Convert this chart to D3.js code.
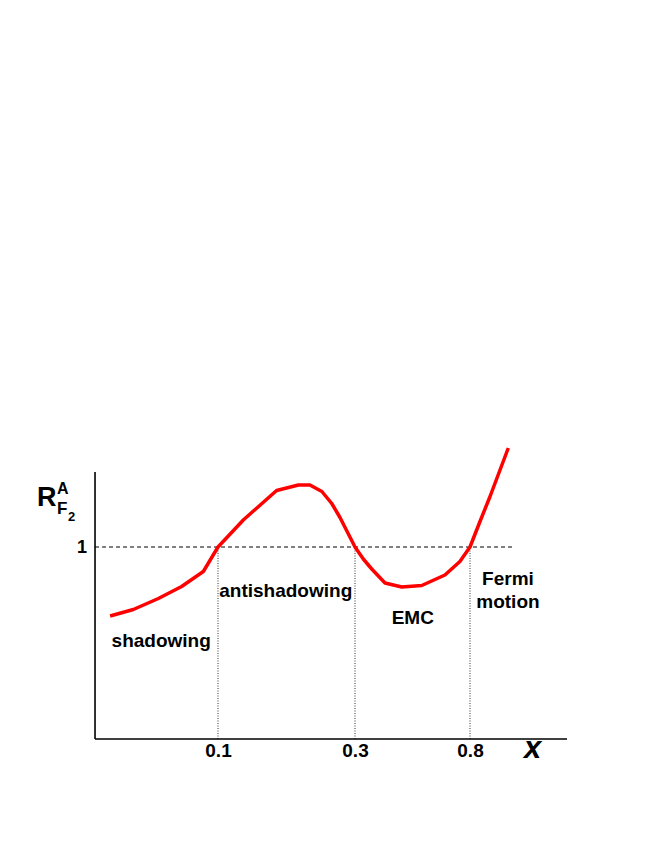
<!DOCTYPE html>
<html>
<head>
<meta charset="utf-8">
<script src="https://cdn.jsdelivr.net/npm/d3@7"></script>
<style>
  body { margin: 0; background: #fff; }
  text { font-family: "Liberation Sans", Arial, Helvetica, sans-serif; font-weight: bold; fill: #000; }
</style>
</head>
<body>
<script>
// schematic nuclear ratio R = F2(A)/F2(D) versus x
const curveX = [0.0421, 0.0507, 0.0620, 0.0747, 0.0889, 0.100, 0.1225, 0.160, 0.1905, 0.209,
    0.230, 0.249, 0.266, 0.300, 0.322, 0.346, 0.3875, 0.447, 0.530, 0.646, 0.734, 0.800,
    0.871, 0.949, 1.109];
const curveR = [0.862, 0.875, 0.897, 0.921, 0.951, 1.000, 1.054, 1.113, 1.124, 1.124,
    1.111, 1.087, 1.059, 1.000, 0.976, 0.956, 0.928, 0.920, 0.923, 0.944, 0.971, 1.000,
    1.051, 1.101, 1.198];

const tickValues = [0.1, 0.3, 0.8];
const tickLabels = ["0.1", "0.3", "0.8"];
const xExtent = [0.0373, 1.83];
const rExtent = [0.616, 1.15];
const unityEnd = 1.174;

const regionNames = ["shadowing", "antishadowing", "EMC", "Fermi", "motion"];
const regionX = [0.0426, 0.101, 0.410, 1.106, 1.106];
const regionR = [0.800, 0.900, 0.846, 0.924, 0.878];

const width = 654, height = 846;

const svg = d3.select("body").append("svg")
    .attr("width", width)
    .attr("height", height);

// x is laid out on log10(x), piecewise so the three ticks land where the sketch has them
const xLog = d3.scaleLinear()
    .domain(tickValues.map(Math.log10))
    .range([218, 355, 470]);
const x = v => xLog(Math.log10(v));

const y = d3.scaleLinear()
    .domain(rExtent)
    .range([739, 472]);

// unity line
svg.append("line")
    .attr("x1", x(xExtent[0])).attr("x2", x(unityEnd))
    .attr("y1", y(1)).attr("y2", y(1))
    .attr("stroke", "#000")
    .attr("stroke-width", 1)
    .attr("stroke-dasharray", "4,3");

// region boundaries
svg.selectAll(".bound")
    .data(tickValues)
    .enter().append("line")
    .attr("class", "bound")
    .attr("x1", d => x(d)).attr("x2", d => x(d))
    .attr("y1", y(rExtent[0])).attr("y2", y(1))
    .attr("stroke", "#333")
    .attr("stroke-width", 1)
    .attr("stroke-dasharray", "1,1.5");

// axes
svg.append("line")
    .attr("x1", x(xExtent[0])).attr("x2", x(xExtent[1]))
    .attr("y1", y(rExtent[0])).attr("y2", y(rExtent[0]))
    .attr("stroke", "#000").attr("stroke-width", 1.6);

svg.append("line")
    .attr("x1", x(xExtent[0])).attr("x2", x(xExtent[0]))
    .attr("y1", y(rExtent[0])).attr("y2", y(rExtent[1]))
    .attr("stroke", "#000").attr("stroke-width", 1.6);

const xAxis = svg.append("g")
    .attr("transform", `translate(0,${y(rExtent[0])})`)
    .call(d3.axisBottom(xLog)
        .tickValues(tickValues.map(Math.log10))
        .tickFormat((d, i) => tickLabels[i])
        .tickSize(0)
        .tickPadding(5));
xAxis.select(".domain").remove();
xAxis.selectAll("text")
    .attr("font-family", "Liberation Sans, Arial, sans-serif")
    .attr("font-weight", "bold")
    .attr("font-size", 19)
    .attr("fill", "#000");

svg.append("text")
    .attr("x", x(xExtent[0]) - 8)
    .attr("y", y(1))
    .attr("dy", "0.35em")
    .attr("text-anchor", "end")
    .attr("font-size", 18)
    .text("1");

svg.append("text")
    .attr("x", 524)
    .attr("y", 758)
    .attr("font-size", 31)
    .attr("font-style", "italic")
    .text("x");

// y label R^A_{F_2}
const ylab = svg.append("text").attr("x", 37).attr("y", 506);
ylab.append("tspan").attr("font-size", 27).text("R");
ylab.append("tspan").attr("x", 57).attr("y", 494).attr("font-size", 16).text("A");
ylab.append("tspan").attr("x", 57).attr("y", 514).attr("font-size", 17).text("F");
ylab.append("tspan").attr("x", 68).attr("y", 521).attr("font-size", 13).text("2");

// the curve
const line = d3.line()
    .x(d => x(d[0]))
    .y(d => y(d[1]));

svg.append("path")
    .datum(curveX.map((v, i) => [v, curveR[i]]))
    .attr("d", line)
    .attr("fill", "none")
    .attr("stroke", "#ff0000")
    .attr("stroke-width", 3.5)
    .attr("stroke-linejoin", "round");

// region labels
svg.selectAll(".region")
    .data(regionNames)
    .enter().append("text")
    .attr("class", "region")
    .attr("x", (d, i) => x(regionX[i]))
    .attr("y", (d, i) => y(regionR[i]))
    .attr("text-anchor", (d, i) => i >= 3 ? "middle" : "start")
    .attr("font-size", 19)
    .text(d => d);
</script>
</body>
</html>
